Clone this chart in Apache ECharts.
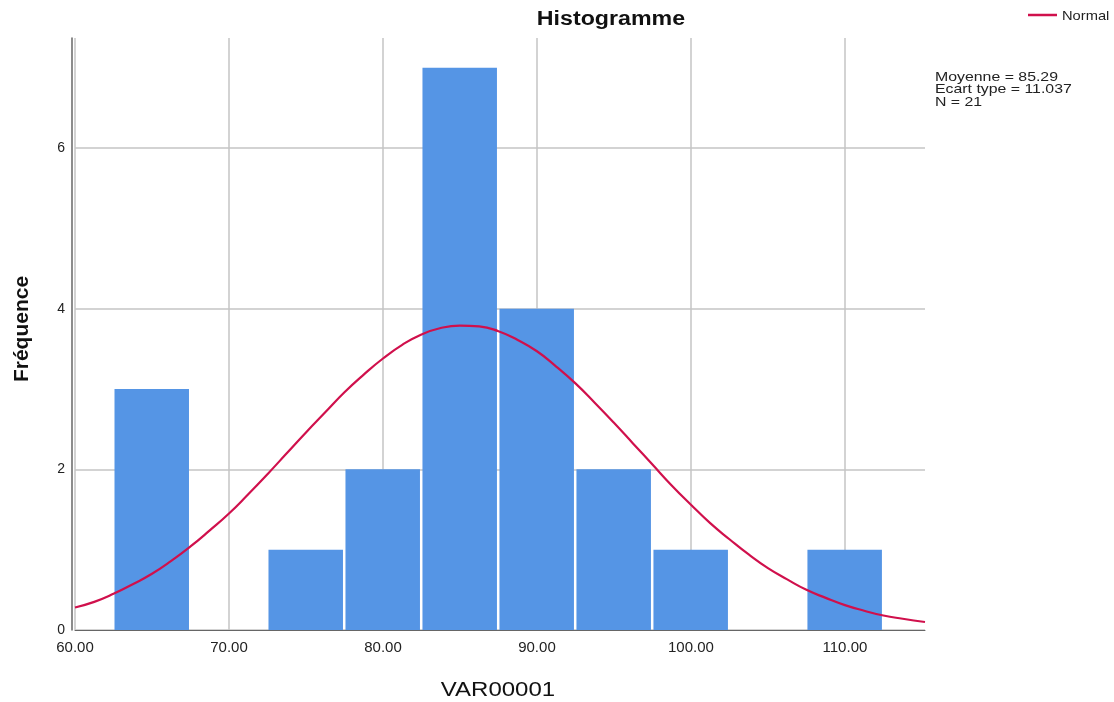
<!DOCTYPE html>
<html><head><meta charset="utf-8">
<script src="https://cdn.jsdelivr.net/npm/echarts@6/dist/echarts.min.js"></script>
<style>html,body{margin:0;padding:0;background:#fff}#c{width:1114px;height:702px}</style>
</head><body><div id="c"></div>
<script>
// Histogram bins (VAR00001)
const binStart = [62.5, 72.5, 77.5, 82.5, 87.5, 92.5, 97.5, 107.5];
const binEnd   = [67.5, 77.5, 82.5, 87.5, 92.5, 97.5, 102.5, 112.5];
const counts   = [3, 1, 2, 7, 4, 2, 1, 1];
// Normal curve
const curveX = [60, 61.25, 62.5, 63.75, 65, 66.25, 67.5, 68.75, 70, 71.25, 72.5, 73.75, 75, 76.25, 77.5, 78.75,
  80, 81.25, 82.5, 83.75, 85, 86.25, 87.5, 88.75, 90, 91.25, 92.5, 93.75, 95, 96.25, 97.5, 98.75,
  100, 101.25, 102.5, 103.75, 105, 106.25, 107.5, 108.75, 110, 111.25, 112.5, 113.75, 115.2];
const curveY = [0.28, 0.35, 0.45, 0.57, 0.70, 0.86, 1.04, 1.24, 1.45, 1.69, 1.94, 2.20, 2.46, 2.71, 2.96, 3.18,
  3.38, 3.55, 3.68, 3.76, 3.79, 3.78, 3.72, 3.61, 3.47, 3.28, 3.07, 2.83, 2.58, 2.32, 2.06, 1.80,
  1.56, 1.33, 1.13, 0.94, 0.77, 0.63, 0.50, 0.40, 0.31, 0.24, 0.18, 0.14, 0.10];
const xTicks = [60, 70, 80, 90, 100, 110];
const yTicks = [0, 2, 4, 6];
const statsLines = ['Moyenne = 85.29', 'Ecart type = 11.037', 'N = 21'];

const chart = echarts.init(document.getElementById('c'));
const font = 'Liberation Sans, Arial, sans-serif';
const red = '#d0104c';
chart.setOption({
  animation: false,
  graphic: [
    {type: 'text', x: 611, y: 19, scaleX: 1.16,
      style: {text: 'Histogramme', font: 'bold 20px ' + font, fill: '#111', align: 'center', verticalAlign: 'middle'}},
    {type: 'line', shape: {x1: 1028, y1: 15, x2: 1057, y2: 15}, style: {stroke: red, lineWidth: 2.5}},
    {type: 'text', x: 1062, y: 16, scaleX: 1.13,
      style: {text: 'Normal', font: '13px ' + font, fill: '#222', verticalAlign: 'middle'}},
    {type: 'text', x: 935, y: 71, scaleX: 1.22,
      style: {text: statsLines.join('\n'), font: '13px ' + font, fill: '#222', lineHeight: 12.5}},
    {type: 'text', x: 498, y: 690, scaleX: 1.2,
      style: {text: 'VAR00001', font: '20px ' + font, fill: '#111', align: 'center', verticalAlign: 'middle'}},
    {type: 'text', x: 22, y: 329, rotation: Math.PI / 2,
      style: {text: 'Fréquence', font: 'bold 21px ' + font, fill: '#111', align: 'center', verticalAlign: 'middle'}}
  ],
  grid: {left: 75, right: 189, top: 38, bottom: 72, outerBoundsMode: 'none', containLabel: false},
  xAxis: {type: 'value', min: 60, max: 115.2, interval: 10,
    axisLine: {show: true, onZero: false, lineStyle: {color: '#666', width: 1}},
    axisTick: {show: false},
    axisLabel: {fontFamily: font, fontSize: 15, color: '#222', margin: 10,
      formatter: v => xTicks.includes(v) ? v.toFixed(2) : '', showMaxLabel: false},
    splitLine: {show: true, showMaxLine: false, lineStyle: {color: '#c4c4c4', width: 1.5}}},
  yAxis: {type: 'value', min: 0, max: 7.37, interval: 2, offset: 3,
    axisLine: {show: true, lineStyle: {color: '#666', width: 1.5}},
    axisTick: {show: false},
    axisLabel: {fontFamily: font, fontSize: 14, color: '#222', margin: 7,
      formatter: v => yTicks.includes(v) ? String(v) : ''},
    splitLine: {show: true, showMaxLine: false, lineStyle: {color: '#c4c4c4', width: 1.5}}},
  series: [
    {type: 'custom', name: 'Histogram', z: 3,
      data: binStart.map((s, i) => [s, binEnd[i], counts[i]]),
      encode: {x: [0, 1], y: 2},
      renderItem: (params, api) => {
        const p0 = api.coord([api.value(0), api.value(2)]);
        const p1 = api.coord([api.value(1), 0]);
        return {type: 'rect',
          shape: {x: p0[0] + 1, y: p0[1], width: p1[0] - p0[0] - 2.5, height: p1[1] - p0[1]},
          style: {fill: '#5595e5', stroke: null}};
      }},
    {type: 'line', name: 'Normal', z: 5, smooth: true, symbol: 'none',
      data: curveX.map((x, i) => [x, curveY[i]]),
      lineStyle: {color: red, width: 2.2}, itemStyle: {color: red}}
  ]
});
</script></body></html>
